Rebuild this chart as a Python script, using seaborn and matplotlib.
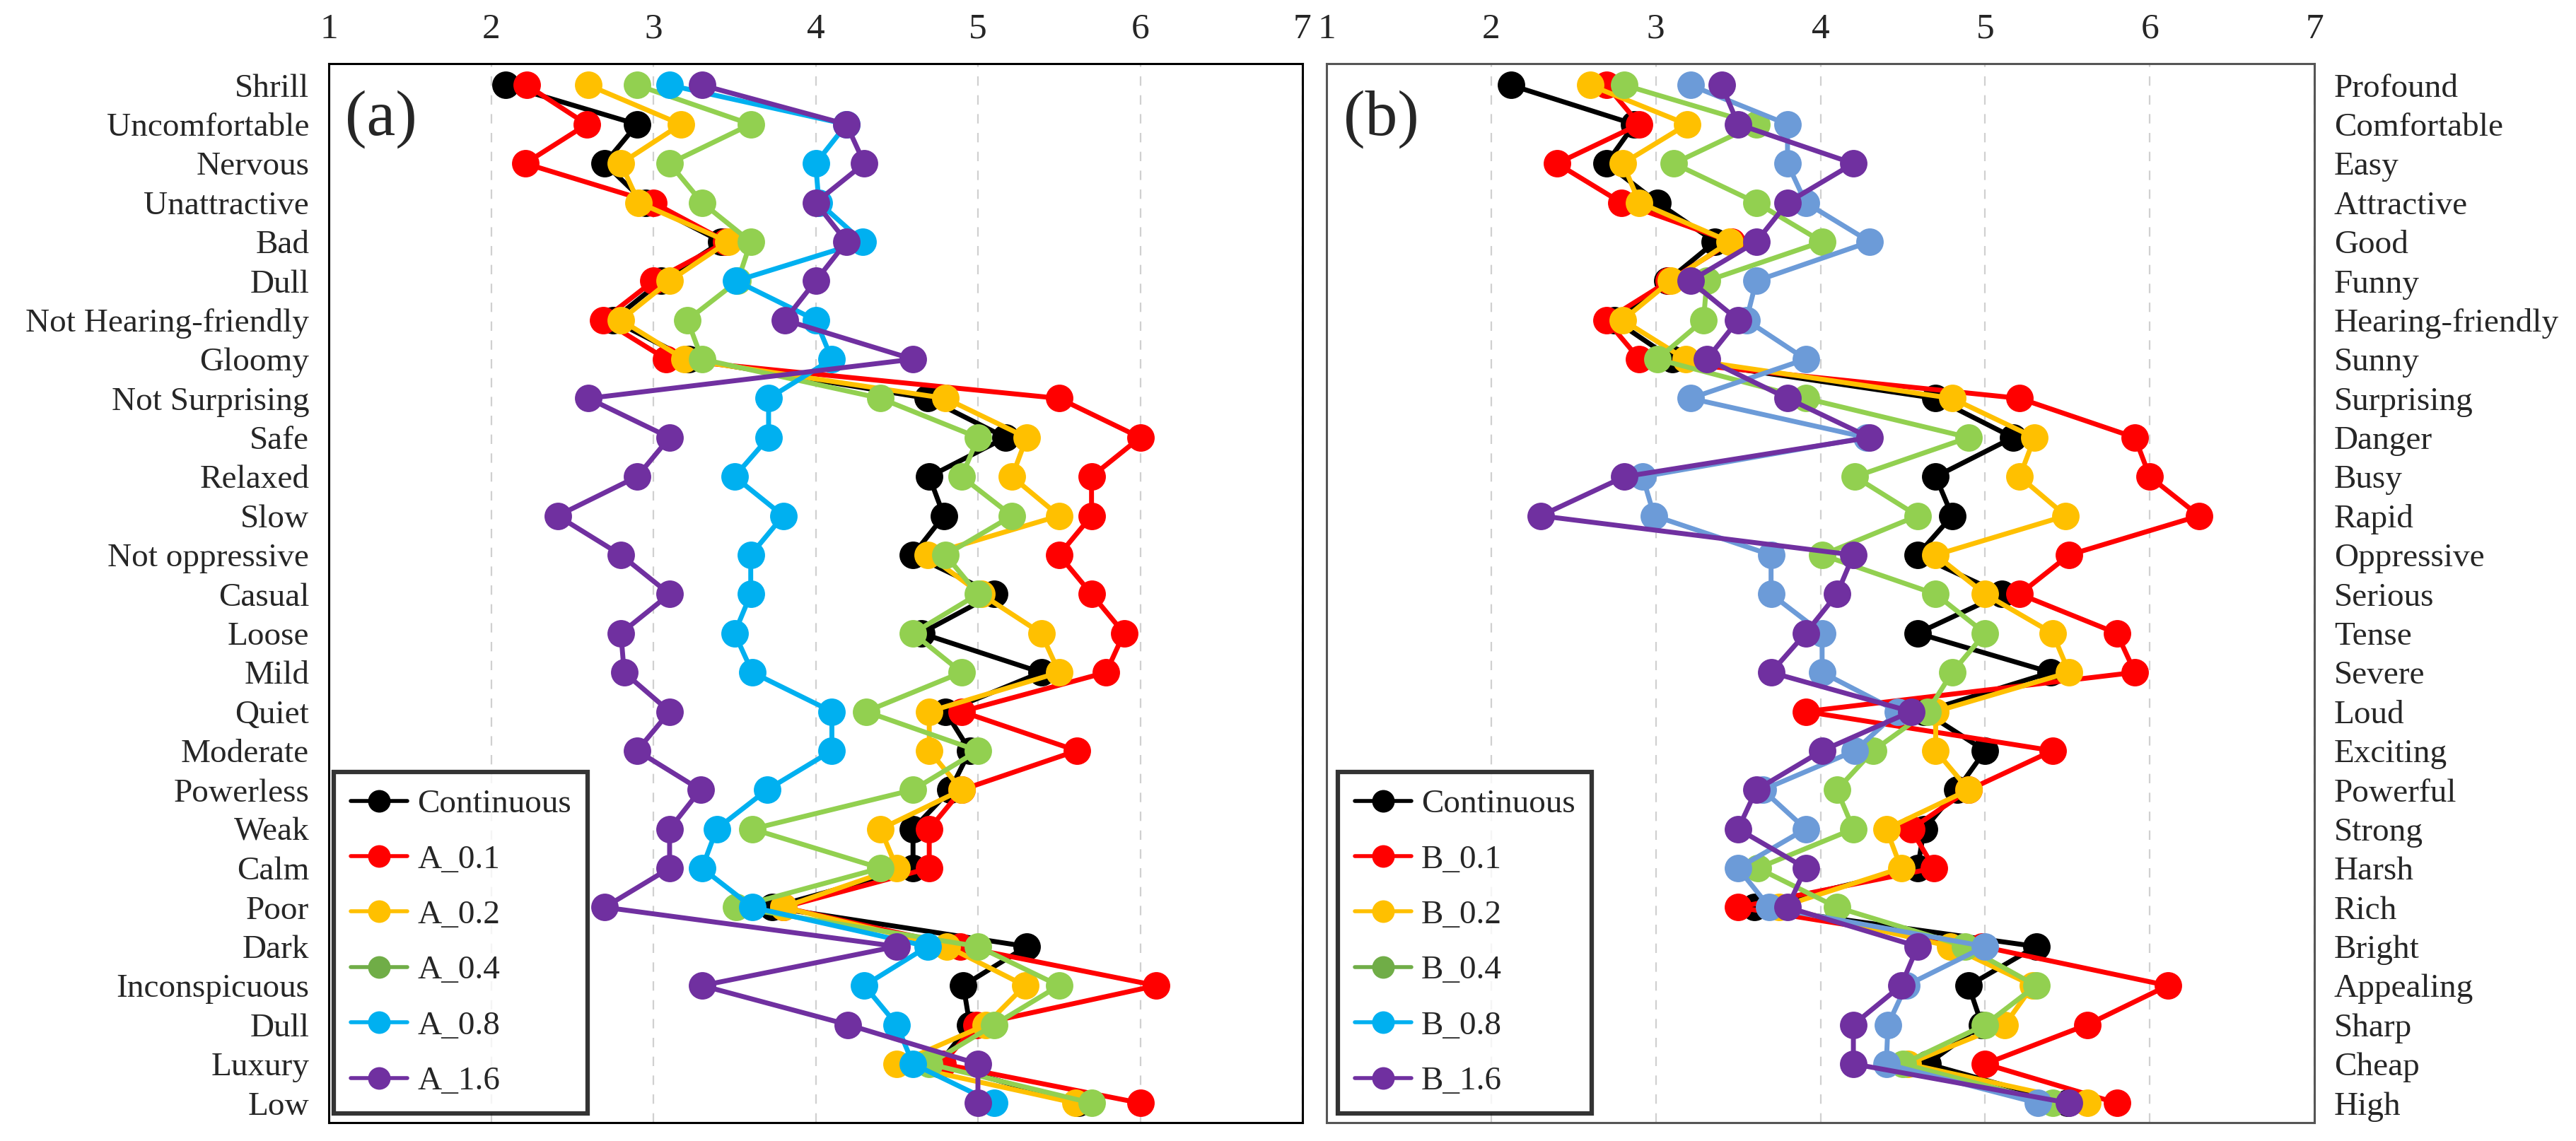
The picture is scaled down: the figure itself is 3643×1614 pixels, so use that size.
import numpy as np
import pandas as pd
import seaborn as sns
import matplotlib.pyplot as plt
from matplotlib.lines import Line2D

# categories (top to bottom)
cats_a = ["Shrill", "Uncomfortable", "Nervous", "Unattractive", "Bad", "Dull",
          "Not Hearing-friendly", "Gloomy", "Not Surprising", "Safe", "Relaxed",
          "Slow", "Not oppressive", "Casual", "Loose", "Mild", "Quiet", "Moderate",
          "Powerless", "Weak", "Calm", "Poor", "Dark", "Inconspicuous", "Dull",
          "Luxury", "Low"]
cats_b = ["Profound", "Comfortable", "Easy", "Attractive", "Good", "Funny",
          "Hearing-friendly", "Sunny", "Surprising", "Danger", "Busy", "Rapid",
          "Oppressive", "Serious", "Tense", "Severe", "Loud", "Exciting",
          "Powerful", "Strong", "Harsh", "Rich", "Bright", "Appealing", "Sharp",
          "Cheap", "High"]

names_a = ["Continuous", "A_0.1", "A_0.2", "A_0.4", "A_0.8", "A_1.6"]
names_b = ["Continuous", "B_0.1", "B_0.2", "B_0.4", "B_0.8", "B_1.6"]

a_cont = [2.09, 2.90, 2.70, 2.95, 3.42, 3.05, 2.75, 3.22, 4.69, 5.17, 4.70, 4.79, 4.60,
          5.10, 4.65, 5.39, 4.80, 4.95, 4.83, 4.60, 4.60, 3.73, 5.30, 4.91, 4.95, 4.76, 5.62]
a_01 = [2.22, 2.59, 2.21, 3.00, 3.45, 3.00, 2.69, 3.08, 5.50, 6.00, 5.70, 5.70, 5.50,
        5.70, 5.90, 5.79, 4.90, 5.61, 4.90, 4.70, 4.70, 3.80, 4.89, 6.10, 4.99, 4.78, 6.00]
a_02 = [2.60, 3.17, 2.80, 2.91, 3.46, 3.10, 2.80, 3.19, 4.80, 5.30, 5.21, 5.50, 4.69,
        5.02, 5.39, 5.50, 4.70, 4.70, 4.90, 4.40, 4.50, 3.80, 4.81, 5.29, 5.05, 4.50, 5.60]
a_04 = [2.90, 3.60, 3.10, 3.30, 3.60, 3.52, 3.21, 3.30, 4.40, 5.00, 4.90, 5.21, 4.80,
        5.00, 4.60, 4.90, 4.31, 5.00, 4.60, 3.61, 4.40, 3.51, 5.00, 5.50, 5.10, 4.70, 5.70]
a_08 = [3.10, 4.19, 4.00, 4.02, 4.29, 3.51, 4.00, 4.10, 3.71, 3.71, 3.50, 3.80, 3.60,
        3.60, 3.50, 3.61, 4.10, 4.10, 3.70, 3.39, 3.30, 3.61, 4.69, 4.30, 4.50, 4.60, 5.10]
a_16 = [3.30, 4.19, 4.30, 4.00, 4.19, 4.00, 3.81, 4.60, 2.60, 3.10, 2.90, 2.41, 2.80,
        3.10, 2.80, 2.82, 3.10, 2.90, 3.29, 3.10, 3.10, 2.70, 4.50, 3.30, 4.20, 5.00, 5.00]

b_cont = [2.12, 2.87, 2.70, 3.01, 3.36, 3.07, 2.75, 3.10, 4.70, 5.17, 4.70, 4.80, 4.59,
          5.10, 4.59, 5.40, 4.63, 5.00, 4.83, 4.63, 4.59, 3.60, 5.31, 4.90, 4.98, 4.65, 5.50]
b_01 = [2.70, 2.90, 2.40, 2.79, 3.46, 3.08, 2.70, 2.90, 5.21, 5.91, 6.00, 6.30, 5.51,
        5.21, 5.80, 5.91, 3.91, 5.41, 4.90, 4.55, 4.69, 3.50, 4.98, 6.11, 5.62, 5.00, 5.80]
b_02 = [2.60, 3.19, 2.80, 2.90, 3.45, 3.09, 2.80, 3.18, 4.80, 5.30, 5.21, 5.49, 4.70,
        5.00, 5.41, 5.51, 4.70, 4.70, 4.90, 4.40, 4.49, 3.75, 4.79, 5.29, 5.12, 4.53, 5.62]
b_04 = [2.81, 3.61, 3.11, 3.61, 4.01, 3.31, 3.29, 3.01, 3.91, 4.90, 4.21, 4.59, 4.01,
        4.70, 5.00, 4.80, 4.65, 4.32, 4.10, 4.20, 3.62, 4.10, 4.88, 5.31, 5.00, 4.50, 5.41]
b_08 = [3.21, 3.80, 3.80, 3.91, 4.30, 3.61, 3.55, 3.91, 3.21, 4.28, 2.92, 2.99, 3.70,
        3.70, 4.01, 4.01, 4.47, 4.21, 3.65, 3.91, 3.50, 3.69, 5.00, 4.52, 4.41, 4.40, 5.32]
b_16 = [3.40, 3.50, 4.20, 3.80, 3.61, 3.21, 3.50, 3.31, 3.80, 4.30, 2.81, 2.30, 4.20,
        4.10, 3.91, 3.70, 4.55, 4.01, 3.61, 3.50, 3.91, 3.80, 4.59, 4.49, 4.20, 4.20, 5.51]

colors_a = ["#000000", "#FF0000", "#FFC000", "#92D050", "#00B0F0", "#7030A0"]
colors_b = ["#000000", "#FF0000", "#FFC000", "#92D050", "#6C9BD8", "#7030A0"]
legend_colors = ["#000000", "#FF0000", "#FFC000", "#70AD47", "#00B0F0", "#7030A0"]


def long_frame(names, series):
    rows = []
    for name, vals in zip(names, series):
        for i, v in enumerate(vals):
            rows.append({"score": v, "pos": i, "series": name})
    return pd.DataFrame(rows)


sns.set_style("white")
plt.rcParams["font.family"] = ["Liberation Serif", "DejaVu Serif"]

W, H = 3643, 1614
fig = plt.figure(figsize=(W / 100, H / 100), dpi=100)
ax_a = fig.add_axes([465 / W, (H - 1588) / H, (1842 - 465) / W, (1588 - 90) / H])
ax_b = fig.add_axes([1876 / W, (H - 1588) / H, (3273 - 1876) / W, (1588 - 90) / H])

panels = [
    (ax_a, cats_a, names_a, [a_cont, a_01, a_02, a_04, a_08, a_16], colors_a, "(a)", "black", 472),
    (ax_b, cats_b, names_b, [b_cont, b_01, b_02, b_04, b_08, b_16], colors_b, "(b)", "#555555", 1892),
]

for ax, cats, names, series, colors, tag, spine_col, leg_x in panels:
    df = long_frame(names, series)
    sns.lineplot(data=df, x="score", y="pos", hue="series", hue_order=names,
                 palette=colors, marker="o", markersize=28, markeredgewidth=0,
                 linewidth=5, sort=False, estimator=None, orient="y",
                 legend=False, ax=ax)
    ax.set_xlim(1, 7)
    ax.set_ylim(26.5, -0.55)
    ax.set_xticks(range(1, 8))
    ax.set_yticks(range(len(cats)))
    ax.set_yticklabels(cats)
    ax.xaxis.tick_top()
    ax.tick_params(axis="x", length=0, labelsize=37, pad=18)
    ax.tick_params(axis="y", length=0, labelsize=34, pad=20)
    ax.set_xlabel("")
    ax.set_ylabel("")
    ax.grid(axis="x", color="#D0D0D0", linestyle=(0, (6, 6)), linewidth=1.6)
    ax.grid(axis="y", visible=False)
    for s in ax.spines.values():
        s.set_color(spine_col)
        s.set_linewidth(2.2)
    ax.text(0.017, 0.975, tag, transform=ax.transAxes, fontsize=66,
            ha="left", va="top")
    handles = [Line2D([0], [0], color=c, lw=4, marker="o", markersize=23,
                      markeredgewidth=0) for c in legend_colors]
    leg = ax.legend(handles, names, loc="lower left",
                    bbox_to_anchor=(leg_x / W, (H - 1575) / H),
                    bbox_transform=fig.transFigure, fontsize=34,
                    frameon=True, fancybox=False, borderpad=0.5,
                    labelspacing=0.75, handlelength=1.7, handletextpad=0.3,
                    borderaxespad=0)
    leg.get_frame().set_edgecolor("black")
    leg.get_frame().set_linewidth(4.5)

ax_b.yaxis.tick_right()
ax_b.tick_params(axis="y", length=0, labelsize=34, pad=20)

fig.savefig("out.png", dpi=100)
